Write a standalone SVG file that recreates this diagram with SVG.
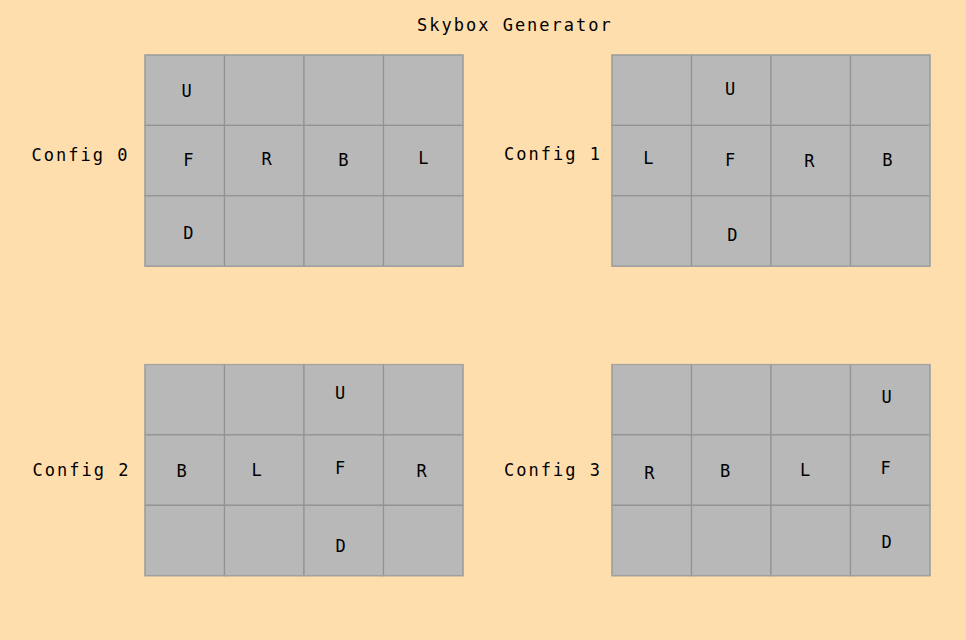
<svg xmlns="http://www.w3.org/2000/svg" width="966" height="640" viewBox="0 0 966 640">
<style>
.bg{fill:#ffdead}
.cell{fill:#b8b8b8;stroke:#929292;stroke-width:1.2}
.frame{fill:none;stroke:#a3a3a3;stroke-width:1}
text{font-family:"DejaVu Sans Mono","Liberation Mono",monospace;font-size:17px;fill:#000;letter-spacing:2px}
.f{text-anchor:middle;letter-spacing:0}
</style>
<defs>
<g id="grid">
<rect class="cell" x="0" y="0" width="79.5" height="70.4"/>
<rect class="cell" x="79.5" y="0" width="79.5" height="70.4"/>
<rect class="cell" x="159" y="0" width="79.5" height="70.4"/>
<rect class="cell" x="238.5" y="0" width="79.5" height="70.4"/>
<rect class="cell" x="0" y="70.4" width="79.5" height="70.4"/>
<rect class="cell" x="79.5" y="70.4" width="79.5" height="70.4"/>
<rect class="cell" x="159" y="70.4" width="79.5" height="70.4"/>
<rect class="cell" x="238.5" y="70.4" width="79.5" height="70.4"/>
<rect class="cell" x="0" y="140.8" width="79.5" height="70.4"/>
<rect class="cell" x="79.5" y="140.8" width="79.5" height="70.4"/>
<rect class="cell" x="159" y="140.8" width="79.5" height="70.4"/>
<rect class="cell" x="238.5" y="140.8" width="79.5" height="70.4"/>
<rect class="frame" x="0" y="0" width="318" height="211.2"/>
</g>
</defs>
<rect class="bg" x="0" y="0" width="966" height="640"/>
<text id="title" x="417" y="30.5">Skybox Generator</text>

<g id="config0">
<text x="31.5" y="160.5">Config 0</text>
<use href="#grid" x="145" y="55"/>
<text class="f" x="186.7" y="96.7">U</text>
<text class="f" x="188.3" y="165.7">F</text>
<text class="f" x="266.7" y="165">R</text>
<text class="f" x="343.3" y="165.7">B</text>
<text class="f" x="423.3" y="164">L</text>
<text class="f" x="188.3" y="239.3">D</text>
</g>

<g id="config1">
<text x="504" y="160">Config 1</text>
<use href="#grid" x="612" y="55"/>
<text class="f" x="730" y="95">U</text>
<text class="f" x="648.3" y="164">L</text>
<text class="f" x="730" y="166">F</text>
<text class="f" x="809.3" y="167.3">R</text>
<text class="f" x="887.3" y="165.7">B</text>
<text class="f" x="732.3" y="240.7">D</text>
</g>

<g id="config2">
<text x="32.5" y="475.7">Config 2</text>
<use href="#grid" x="145" y="364.5"/>
<text class="f" x="340" y="399.3">U</text>
<text class="f" x="181.7" y="477.3">B</text>
<text class="f" x="256.7" y="476">L</text>
<text class="f" x="340" y="474">F</text>
<text class="f" x="421.7" y="476.7">R</text>
<text class="f" x="340.7" y="552.3">D</text>
</g>

<g id="config3">
<text x="504" y="475.7">Config 3</text>
<use href="#grid" x="612" y="364.5"/>
<text class="f" x="886.7" y="403.3">U</text>
<text class="f" x="649.3" y="479">R</text>
<text class="f" x="725" y="476.7">B</text>
<text class="f" x="805" y="476">L</text>
<text class="f" x="885.7" y="474">F</text>
<text class="f" x="886.7" y="548.3">D</text>
</g>

<g id="connectors"/>
</svg>
